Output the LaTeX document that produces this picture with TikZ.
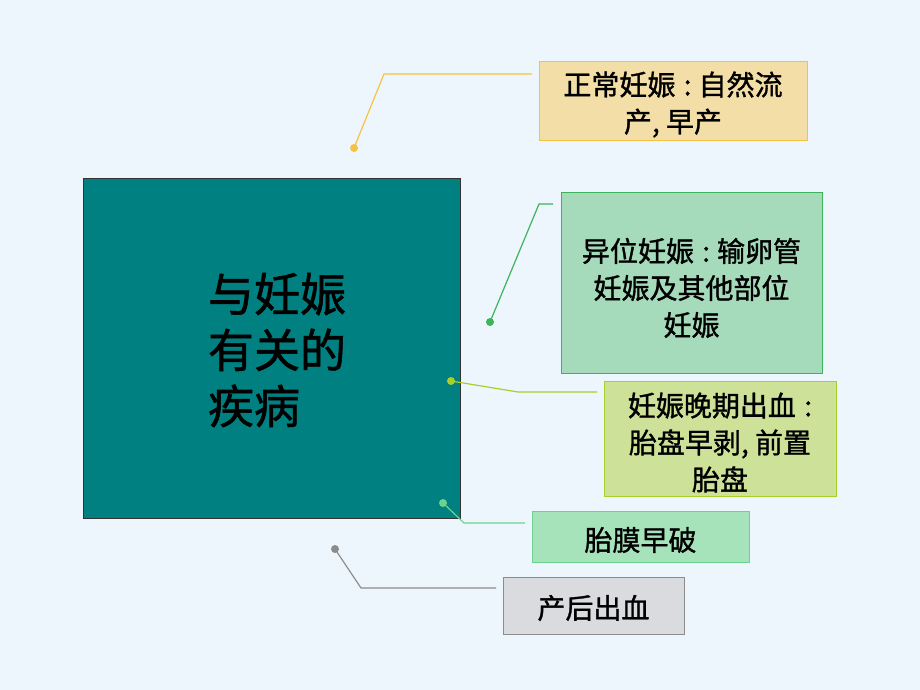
\documentclass[tikz,border=0pt]{standalone}
\usepackage{fontspec}
\setmainfont{Noto Sans CJK SC}
\newfontfamily\heavy[FakeBold=1.2]{Noto Sans CJK SC}
\definecolor{bgc}{HTML}{EEF6FD}
\definecolor{teal0}{HTML}{008080}
\definecolor{yfill}{HTML}{F2DEA6}\definecolor{yline}{HTML}{F5C242}
\definecolor{gfill}{HTML}{A5DABB}\definecolor{gline}{HTML}{3DB45A}
\definecolor{lfill}{HTML}{CDE298}\definecolor{lline}{HTML}{A9CF2A}
\definecolor{mfill}{HTML}{A6E2BA}\definecolor{mline}{HTML}{6AD38C}
\definecolor{sfill}{HTML}{D9DBDE}\definecolor{sline}{HTML}{8C8C8C}
\newcommand{\cln}{\hspace{0.3em}:\hspace{0.25em}}
\tikzset{
  box/.style={draw, line width=1pt, inner sep=0pt},
  btxt/.style={align=center, inner sep=0pt, font=\heavy\fontsize{28}{37}\selectfont},
  conn/.style={line width=1.2pt},
  dotc/.style={circle, inner sep=0pt, minimum size=8pt},
}
\begin{document}
\begin{tikzpicture}[x=1pt,y=-1pt]
\fill[bgc] (0,0) rectangle (920,690);
\useasboundingbox (0,0) rectangle (920,690);
% main box
\node[draw=black!80, fill=teal0, line width=1pt, minimum width=377pt, minimum height=340pt, inner sep=0pt] (main) at (271.5,348) {};
\node[align=left, inner sep=0pt, font=\heavy\fontsize{46}{56}\selectfont, anchor=center] (mt) at (277,350) {与妊娠\\有关的\\疾病};
% boxes
\node[box, fill=yfill, draw=yline, minimum width=268pt, minimum height=78pt] (b1) at (673,101) {};
\node[btxt] (t1) at (673,104.5) {正常妊娠\cln 自然流\\产, 早产};
\node[box, fill=gfill, draw=gline, minimum width=261pt, minimum height=181pt] (b2) at (691.5,282.5) {};
\node[btxt] (t2) at (691.5,288) {异位妊娠\cln 输卵管\\妊娠及其他部位\\妊娠};
\node[box, fill=lfill, draw=lline, minimum width=232pt, minimum height=115pt] (b3) at (720,438.5) {};
\node[btxt] (t3) at (720,442.5) {妊娠晚期出血\cln\\胎盘早剥, 前置\\胎盘};
\node[box, fill=mfill, draw=mline, minimum width=217pt, minimum height=51pt] (b4) at (640.5,536.5) {};
\node[btxt] (t4) at (640.5,540) {胎膜早破};
\node[box, fill=sfill, draw=sline, minimum width=181pt, minimum height=57pt] (b5) at (593.5,605.5) {};
\node[btxt] (t5) at (593.5,608) {产后出血};
% dots
\node[dotc, fill=yline] (d1) at (354,148) {};
\node[dotc, fill=gline] (d2) at (490,322) {};
\node[dotc, fill=lline] (d3) at (451,381) {};
\node[dotc, fill=mline] (d4) at (443,503) {};
\node[dotc, fill=sline] (d5) at (335,549) {};
% bends and ends
\coordinate (k1) at (384,74);  \coordinate (e1) at (532,74);
\coordinate (k2) at (539,204); \coordinate (e2) at (553,204);
\coordinate (k3) at (518,392); \coordinate (e3) at (597,392);
\coordinate (k4) at (464,523); \coordinate (e4) at (525,523);
\coordinate (k5) at (361,588); \coordinate (e5) at (496,588);
\draw[conn, yline] (d1.center) -- (k1) -- (e1);
\draw[conn, gline] (d2.center) -- (k2) -- (e2);
\draw[conn, lline] (d3.center) -- (k3) -- (e3);
\draw[conn, mline] (d4.center) -- (k4) -- (e4);
\draw[conn, sline] (d5.center) -- (k5) -- (e5);
\end{tikzpicture}
\end{document}
